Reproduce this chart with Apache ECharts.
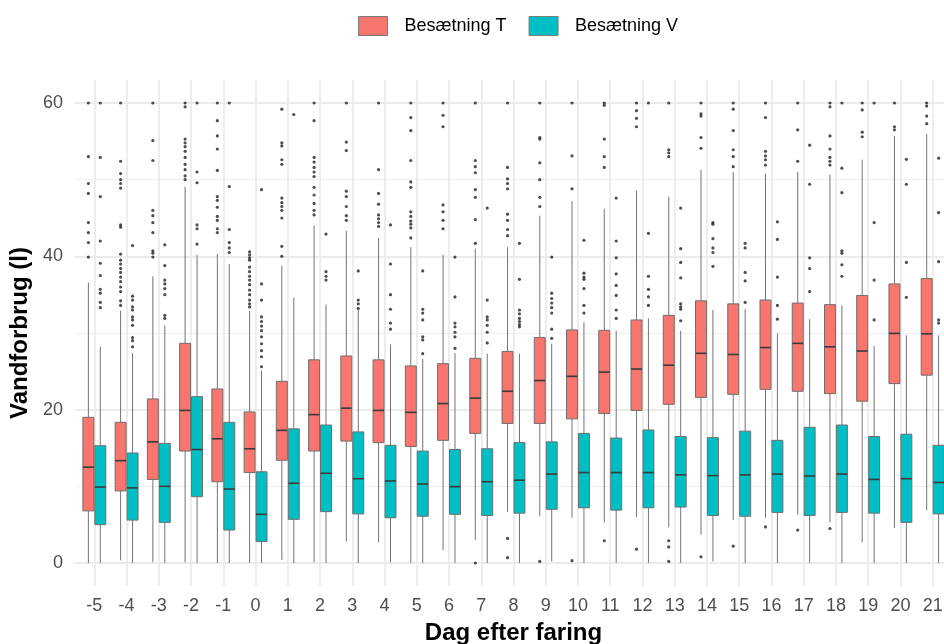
<!DOCTYPE html>
<html>
<head>
<meta charset="utf-8">
<script src="https://cdn.jsdelivr.net/npm/echarts@6/dist/echarts.min.js"></script>
<style>
  html, body { margin: 0; padding: 0; background: #fff; }
  #chart { width: 944px; height: 644px; }
</style>
</head>
<body>
<div id="chart"></div>
<script>
// Dag efter faring
const days = [-5, -4, -3, -2, -1, 0, 1, 2, 3, 4, 5, 6, 7, 8, 9, 10, 11, 12, 13, 14, 15, 16, 17, 18, 19, 20, 21]
const yTicks = [0, 20, 40, 60]
const yMinor = [10, 30, 50]

// Besætning T (min, Q1, median, Q3, max of whiskers)
const tMin = [0, 0.35, 0.1, 0.1, 0, 0, 0.4, 0.1, 2.8, 2.7, 0, 1.7, 3.0, 6.65, 6.1, 5.9, 5.3, 6.0, 4.65, 3.7, 5.6, 5.9, 6.3, 5.3, 2.7, 4.6, 6.9]
const tQ1  = [6.8, 9.4, 10.9, 14.6, 10.6, 11.8, 13.4, 14.6, 15.9, 15.7, 15.2, 16.0, 16.9, 18.2, 18.2, 18.8, 19.5, 19.9, 20.7, 21.6, 22.0, 22.65, 22.4, 22.1, 21.1, 23.4, 24.5]
const tMed = [12.5, 13.35, 15.8, 19.9, 16.2, 14.9, 17.3, 19.35, 20.2, 19.9, 19.65, 20.8, 21.5, 22.4, 23.8, 24.35, 24.9, 25.3, 25.8, 27.35, 27.2, 28.1, 28.65, 28.2, 27.65, 29.95, 29.9]
const tQ3  = [19.0, 18.35, 21.4, 28.65, 22.7, 19.7, 23.7, 26.5, 27.0, 26.5, 25.7, 26.0, 26.7, 27.6, 29.4, 30.4, 30.35, 31.7, 32.3, 34.2, 33.8, 34.3, 33.9, 33.7, 34.9, 36.4, 37.1]
const tMax = [36.6, 32.9, 37.4, 49.1, 40.3, 32.9, 38.8, 44.0, 43.3, 42.4, 41.2, 40.2, 41.0, 41.2, 45.3, 47.2, 46.2, 48.6, 47.8, 51.3, 51.0, 50.8, 51.0, 50.65, 52.6, 55.7, 55.95]

// Besætning V
const vMin = [0, 0, 0, 0, 0, 0, 0, 0, 0, 0.1, 0, 0, 0, 0, 0.2, 0, 0, 0, 0, 0.2, 0, 0, 0, 0, 0, 0, 0]
const vQ1  = [5.0, 5.6, 5.3, 8.65, 4.3, 2.8, 5.7, 6.7, 6.4, 5.9, 6.1, 6.35, 6.2, 6.5, 7.0, 7.2, 6.9, 7.2, 7.3, 6.2, 6.1, 6.6, 6.2, 6.6, 6.5, 5.3, 6.4]
const vMed = [9.9, 9.8, 10.0, 14.8, 9.65, 6.35, 10.4, 11.7, 11.0, 10.7, 10.3, 9.96, 10.6, 10.8, 11.6, 11.8, 11.8, 11.8, 11.5, 11.4, 11.5, 11.6, 11.35, 11.6, 10.9, 11.0, 10.5]
const vQ3  = [15.3, 14.35, 15.6, 21.7, 18.35, 11.9, 17.5, 18.0, 17.1, 15.35, 14.6, 14.8, 14.9, 15.7, 15.8, 16.9, 16.3, 17.35, 16.5, 16.35, 17.2, 16.0, 17.7, 18.0, 16.5, 16.8, 15.35]
const vMax = [28.2, 27.4, 31.0, 40.2, 39.0, 25.1, 34.6, 33.7, 33.0, 28.5, 26.6, 27.4, 27.3, 27.3, 28.6, 31.4, 30.3, 31.9, 30.3, 33.0, 33.1, 29.95, 31.8, 33.6, 28.3, 29.7, 29.7]

// outliers per day
const tOut = [
  [60, 53.0, 49.5, 48.2, 44.4, 43.1, 41.8, 39.9],
  [60, 52.4, 50.8, 50.0, 49.5, 48.9, 44.1, 43.8, 40.3, 39.5, 39.0, 38.4, 37.9, 37.3, 36.7, 36.0, 35.4, 34.2, 33.6],
  [60, 55.1, 52.5, 46.0, 45.3, 44.4, 43.1, 40.7, 40.4, 39.9],
  [60, 59.5, 55.3, 54.8, 54.3, 53.7, 52.9, 52.0, 51.3, 50.5, 50.0],
  [60, 57.7, 55.7, 54.0, 51.2, 47.8, 47.3, 46.4, 45.2, 44.7, 43.6, 43.1],
  [40.6, 40.2, 39.8, 39.5, 38.6, 38.0, 37.4, 36.9, 36.3, 35.6, 35.0, 34.3, 33.8, 33.4],
  [59.2, 54.8, 54.4, 52.6, 52.0, 47.6, 47.0, 46.5, 46.0, 45.0, 41.3, 40.0],
  [60, 57.7, 52.9, 52.3, 51.6, 51.0, 50.4, 49.0, 48.0, 46.9, 46.0, 45.4],
  [60, 54.9, 53.8, 48.5, 47.8, 46.5, 45.3, 44.7],
  [60, 51.3, 48.2, 46.8, 45.4, 44.9, 44.4, 43.9],
  [60, 58.1, 56.4, 52.5, 49.7, 49.0, 45.8, 45.2, 44.6, 44.2, 43.7, 42.4],
  [60, 58.4, 56.9, 46.7, 45.8, 44.7, 43.6],
  [60, 52.5, 51.7, 50.9, 48.7, 47.7, 44.8, 41.7, 0.0],
  [60, 51.6, 50.1, 49.5, 48.8, 45.5, 44.7, 43.5, 42.7, 3.2, 0.7],
  [60, 55.5, 55.3, 52.2, 50.0, 47.7, 46.5, 0.2],
  [60, 53.1, 48.8, 0.3],
  [60, 59.7, 55.3, 53.0, 51.6, 2.9],
  [60, 59.0, 58.0, 56.9, 1.8],
  [60, 53.9, 53.5, 53.0, 2.9, 2.1, 0.2],
  [60, 58.6, 58.3, 55.5, 54.1, 0.8],
  [60, 59.2, 56.4, 53.9, 53.0, 51.7, 2.2],
  [60, 58.1, 53.7, 53.1, 52.6, 51.9, 4.7],
  [60, 56.5, 52.4, 4.3],
  [60, 59.5, 55.7, 54.0, 52.9, 52.4, 51.9, 4.5],
  [60, 59.1, 56.2, 55.6],
  [60, 56.9, 56.5],
  [60, 59.6, 58.3, 57.3]
]
const vOut = [
  [60, 52.9, 47.8, 42.0, 39.1, 37.5, 35.7, 35.2, 34.0, 33.3],
  [41.4, 34.8, 34.3, 33.4, 33.0, 32.1, 31.7, 31.0, 29.4, 29.0, 28.2],
  [41.5, 38.8, 36.9, 36.4, 35.8, 35.0, 32.3, 31.9],
  [60, 51.0, 49.6, 44.1, 43.6, 41.6],
  [60, 49.1, 43.5, 41.8, 41.1, 40.5],
  [48.7, 36.4, 34.3, 32.1, 31.5, 30.9, 30.3, 29.5, 28.6, 27.7, 26.9, 25.6],
  [58.5],
  [42.9, 38.0, 37.4, 36.9],
  [38.1, 34.3, 33.8, 33.2],
  [44.1, 39.0, 35.0, 33.1, 31.3, 30.5],
  [38.1, 33.1, 32.6, 31.7, 29.5, 29.1, 27.3],
  [39.9, 34.7, 31.3, 30.8, 30.1, 29.5, 28.0],
  [46.3, 34.3, 32.1, 31.7, 31.0, 30.1, 28.7],
  [41.7, 37.0, 33.0, 32.5, 31.9, 31.5, 31.1, 30.8],
  [39.9, 35.2, 34.5, 33.9, 33.3, 32.6, 30.5, 29.3],
  [42.1, 37.8, 37.3, 37.0, 35.8, 33.6, 32.6],
  [47.6, 42.0, 39.8, 37.7, 36.2, 34.9, 33.0, 31.9],
  [60, 43.0, 37.4, 35.7, 34.7, 33.6],
  [46.3, 41.0, 39.2, 37.2, 33.8, 33.4, 33.1, 31.6],
  [44.4, 44.2, 42.3, 41.1, 40.5, 38.7],
  [41.7, 41.1, 37.9, 36.8, 34.0],
  [44.5, 42.2, 37.3, 33.6, 31.8],
  [54.5, 49.4, 39.8, 38.4, 35.4],
  [60, 51.5, 48.3, 40.7, 40.4, 38.9, 37.4],
  [60, 44.4, 36.9, 31.7],
  [52.65, 49.4, 39.2, 34.65],
  [52.8, 45.7, 39.3, 31.7, 31.3]
]

const seriesNames = ['Besætning T', 'Besætning V']
const colors = ['#F8766D', '#00BFC4']
const FONT = 'Liberation Sans'
const DODGE = 0.185   // box offset from day centre, in day units
const BOX_W = 0.34    // box width, in day units

function boxData(mn, q1, md, q3, mx) {
  return days.map((d, i) => [d, mn[i], q1[i], md[i], q3[i], mx[i]])
}
function outData(outs, off) {
  const pts = []
  outs.forEach((list, i) => list.forEach(v => pts.push([days[i] + off, v])))
  return pts
}

function boxRenderer(off, fill) {
  return function (params, api) {
    const x = api.value(0) + off
    const pMin = api.coord([x, api.value(1)])
    const pQ1 = api.coord([x, api.value(2)])
    const pMed = api.coord([x, api.value(3)])
    const pQ3 = api.coord([x, api.value(4)])
    const pMax = api.coord([x, api.value(5)])
    const hw = api.size([BOX_W, 0])[0] / 2
    const whisker = { stroke: '#737373', lineWidth: 1 }
    return {
      type: 'group',
      children: [
        { type: 'line', shape: { x1: pMax[0], y1: pMax[1], x2: pQ3[0], y2: pQ3[1] }, style: whisker },
        { type: 'line', shape: { x1: pQ1[0], y1: pQ1[1], x2: pMin[0], y2: pMin[1] }, style: whisker },
        { type: 'rect', shape: { x: pQ3[0] - hw, y: pQ3[1], width: hw * 2, height: pQ1[1] - pQ3[1] },
          style: { fill: fill, stroke: '#6e6e6e', lineWidth: 1 } },
        { type: 'line', shape: { x1: pMed[0] - hw, y1: pMed[1], x2: pMed[0] + hw, y2: pMed[1] },
          style: { stroke: '#3a3a3a', lineWidth: 1.6 } }
      ]
    }
  }
}

// grid lines in ggplot style (major at ticks, minor between)
const gridLines = []
yTicks.forEach(v => gridLines.push({ yAxis: v, lineStyle: { color: '#EBEBEB', width: 1.8, type: 'solid' } }))
yMinor.forEach(v => gridLines.push({ yAxis: v, lineStyle: { color: '#EFEFEF', width: 1, type: 'solid' } }))
days.forEach(d => gridLines.push({ xAxis: d, lineStyle: { color: '#EBEBEB', width: 1.8, type: 'solid' } }))

const chart = echarts.init(document.getElementById('chart'))
chart.setOption({
  animation: false,
  textStyle: { fontFamily: FONT },
  legend: {
    data: seriesNames,
    left: 358, top: 16, padding: 0,
    icon: 'rect', itemWidth: 29, itemHeight: 19, itemGap: 22,
    itemStyle: { borderColor: '#7a7a7a', borderWidth: 1 },
    textStyle: { fontFamily: FONT, fontSize: 18, color: '#000', padding: [0, 0, 0, 12] }
  },
  grid: { left: 75, top: 80, width: 877, height: 506, outerBoundsMode: 'none' },
  xAxis: {
    type: 'value', min: -5.6, max: 21.6,
    name: 'Dag efter faring', nameLocation: 'middle', nameGap: 35,
    nameTextStyle: { fontFamily: FONT, fontSize: 24, fontWeight: 'bold', color: '#000' },
    axisLine: { show: false }, axisTick: { show: false }, splitLine: { show: false },
    axisLabel: { customValues: days, fontSize: 18, color: '#4D4D4D', margin: 11, fontFamily: FONT }
  },
  yAxis: {
    type: 'value', min: -3, max: 63,
    name: 'Vandforbrug (l)', nameLocation: 'middle', nameGap: 30, nameRotate: 90,
    nameTextStyle: { fontFamily: FONT, fontSize: 24, fontWeight: 'bold', color: '#000' },
    axisLine: { show: false }, axisTick: { show: false }, splitLine: { show: false },
    axisLabel: { customValues: yTicks, fontSize: 18, color: '#4D4D4D', margin: 12, fontFamily: FONT }
  },
  series: [
    {
      type: 'line', name: 'grid', data: [], silent: true, z: 0,
      markLine: { z: 0, symbol: 'none', silent: true, animation: false, label: { show: false }, data: gridLines }
    },
    {
      type: 'custom', name: seriesNames[0], z: 2,
      itemStyle: { color: colors[0] },
      encode: { x: 0, y: [1, 2, 3, 4, 5] },
      data: boxData(tMin, tQ1, tMed, tQ3, tMax),
      renderItem: boxRenderer(-DODGE, colors[0])
    },
    {
      type: 'custom', name: seriesNames[1], z: 2,
      itemStyle: { color: colors[1] },
      encode: { x: 0, y: [1, 2, 3, 4, 5] },
      data: boxData(vMin, vQ1, vMed, vQ3, vMax),
      renderItem: boxRenderer(DODGE, colors[1])
    },
    {
      type: 'scatter', name: 'outT', z: 6, symbolSize: 3.2, silent: true,
      itemStyle: { color: '#222' },
      data: outData(tOut, -DODGE)
    },
    {
      type: 'scatter', name: 'outV', z: 6, symbolSize: 3.2, silent: true,
      itemStyle: { color: '#222' },
      data: outData(vOut, DODGE)
    }
  ]
})
</script>
</body>
</html>
